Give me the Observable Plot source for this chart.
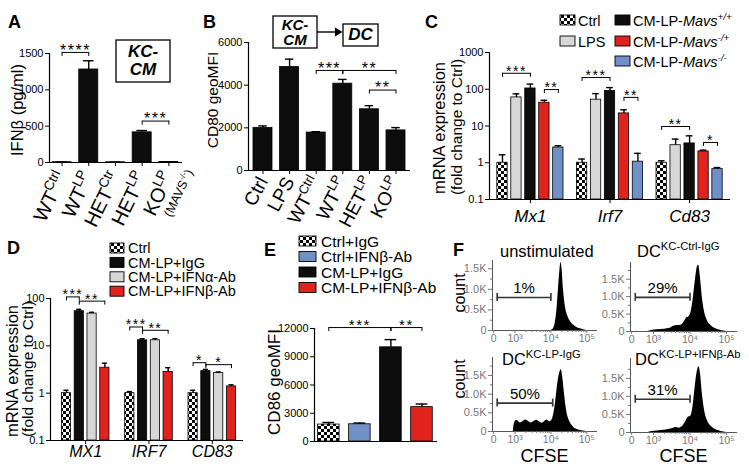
<!DOCTYPE html>
<html>
<head>
<meta charset="utf-8">
<script src="https://cdn.jsdelivr.net/npm/d3@7"></script>
<script src="https://cdn.jsdelivr.net/npm/@observablehq/plot@0.6"></script>
<style>
  html, body { margin: 0; padding: 0; background: #fff; }
  #wrap { position: relative; width: 749px; height: 468px; overflow: hidden; background: #fff; }
  #wrap > svg { position: absolute; left: 0; top: 0; }
</style>
</head>
<body>
<svg width="0" height="0" style="position:absolute">
  <defs>
    <pattern id="chk" width="6" height="6" patternUnits="userSpaceOnUse">
      <rect width="6" height="6" fill="#fff"/>
      <rect width="3" height="3" fill="#000"/>
      <rect x="3" y="3" width="3" height="3" fill="#000"/>
    </pattern>
  </defs>
</svg>
<div id="wrap"></div>
<script>
const FONT = '"Liberation Sans", Arial, Helvetica, sans-serif';
const W = 749, H = 468;
const RED = "#e2231d", BLUE = "#7090c8", GRAY = "#d7d7d7", BLACK = "#0d0d0d", CHK = "url(#chk)";

// ================= DATA =================
// Panel A
const aCats = ["WT|Ctrl", "WT|LP", "HET|Ctr", "HET|LP", "KO|LP"];
const aNotes = ["", "", "", "", "(MAVS|-/-|)"];
const aValues = [4, 1280, 3, 415, 7];
const aErrors = [6, 1400, 5, 440, 10];
const aTicks = [0, 500, 1000, 1500];
const aBrackets = [
  {from: "WT|Ctrl", to: "WT|LP", y: 1515, label: "****"},
  {from: "HET|LP", to: "KO|LP", y: 570, label: "***"}
];

// Panel B
const bCats = ["Ctrl", "LPS", "WT|Ctrl", "WT|LP", "HET|LP", "KO|LP"];
const bValues = [2000, 4850, 1780, 4070, 2870, 1880];
const bErrors = [2090, 5220, 1820, 4270, 3040, 2010];
const bTicks = [0, 2000, 4000, 6000];
const bBrackets = [
  {from: "WT|Ctrl", to: "WT|LP", y: 4690, label: "***"},
  {from: "WT|LP", to: "KO|LP", y: 4690, label: "**"},
  {from: "HET|LP", to: "KO|LP", y: 3770, label: "**"}
];

// Panel C
const cGenes = ["Mx1", "Irf7", "Cd83"];
const cConds = ["Ctrl", "LPS", "CM-LP-Mavs|+/+", "CM-LP-Mavs|-/+", "CM-LP-Mavs|-/-"];
const cFills = [CHK, GRAY, BLACK, RED, BLUE];
const cValues = [[1.0, 60, 105, 43, 2.6], [1.0, 52, 90, 22, 1.07], [1.0, 3.0, 3.35, 2.03, 0.67]];
const cErrors = [[1.65, 75, 138, 50, 2.9], [1.26, 76, 111, 27.6, 1.8], [1.13, 4.4, 5.4, 2.2, 0.74]];
const cTicks = [0.1, 1, 10, 100, 1000];
const cBrackets = [
  {gene: "Mx1", from: "Ctrl", to: "CM-LP-Mavs|+/+", y: 272, label: "***"},
  {gene: "Mx1", from: "CM-LP-Mavs|-/+", to: "CM-LP-Mavs|-/-", y: 98, label: "**"},
  {gene: "Irf7", from: "Ctrl", to: "CM-LP-Mavs|+/+", y: 209, label: "***"},
  {gene: "Irf7", from: "CM-LP-Mavs|-/+", to: "CM-LP-Mavs|-/-", y: 60, label: "**"},
  {gene: "Cd83", from: "Ctrl", to: "CM-LP-Mavs|+/+", y: 9.7, label: "**"},
  {gene: "Cd83", from: "CM-LP-Mavs|-/+", to: "CM-LP-Mavs|-/-", y: 3.56, label: "*"}
];

// Panel D
const dGenes = ["MX1", "IRF7", "CD83"];
const dConds = ["Ctrl", "CM-LP+IgG", "CM-LP+IFNα-Ab", "CM-LP+IFNβ-Ab"];
const dFills = [CHK, BLACK, GRAY, RED];
const dValues = [[1.0, 54, 48, 3.45], [1.0, 13.1, 13.1, 2.8], [1.0, 2.92, 2.65, 1.39]];
const dErrors = [[1.15, 59, 51, 4.3], [1.08, 14.1, 14.2, 3.45], [1.15, 3.18, 2.8, 1.5]];
const dTicks = [0.1, 1, 10, 100];
const dBrackets = [
  {gene: "MX1", from: "Ctrl", to: "CM-LP+IgG", y: 108, label: "***"},
  {gene: "MX1", from: "CM-LP+IgG", to: "CM-LP+IFNβ-Ab", y: 88, label: "**"},
  {gene: "IRF7", from: "Ctrl", to: "CM-LP+IgG", y: 25, label: "***"},
  {gene: "IRF7", from: "CM-LP+IgG", to: "CM-LP+IFNβ-Ab", y: 21.3, label: "**"},
  {gene: "CD83", from: "Ctrl", to: "CM-LP+IgG", y: 4.4, label: "*"},
  {gene: "CD83", from: "CM-LP+IgG", to: "CM-LP+IFNβ-Ab", y: 4.0, label: "*"}
];

// Panel E
const eConds = ["Ctrl+IgG", "Ctrl+IFNβ-Ab", "CM-LP+IgG", "CM-LP+IFNβ-Ab"];
const eFills = [CHK, BLUE, BLACK, RED];
const eValues = [1800, 1830, 10000, 3650];
const eErrors = [2020, 1960, 10820, 3980];
const eTicks = [0, 3000, 6000, 9000, 12000];
const eBrackets = [
  {from: "Ctrl+IgG", to: "CM-LP+IgG", y: 12100, label: "***"},
  {from: "CM-LP+IgG", to: "CM-LP+IFNβ-Ab", y: 12100, label: "**"}
];

// Panel F (x in display decades of CFSE; "0" drawn at 2.4)
const fTitles = ["unstimulated", "DC|KC-Ctrl-IgG", "DC|KC-LP-IgG", "DC|KC-LP+IFNβ-Ab"];
const fTickVals = [2.4, 3, 4, 5];
const fTickLabels = ["0", "10³", "10⁴", "10⁵"];
const fYTicks = [0, 500, 1000, 1500];
const fUnstim = [[4.0,0],[4.07,40],[4.12,180],[4.17,520],[4.21,1000],[4.25,1450],[4.28,1650],[4.31,1500],[4.35,1000],[4.4,600],[4.47,350],[4.56,200],[4.68,100],[4.82,40],[5.0,0]];
const fCtrlIgG = [[2.85,0],[2.95,30],[3.1,50],[3.3,65],[3.45,90],[3.55,150],[3.65,170],[3.75,180],[3.83,260],[3.9,380],[3.97,420],[4.03,560],[4.09,950],[4.15,1500],[4.21,1880],[4.24,1900],[4.28,1600],[4.33,1050],[4.39,600],[4.47,320],[4.57,170],[4.7,80],[4.85,30],[5.0,0]];
const fLPIgG = [[2.95,0],[2.98,200],[3.04,300],[3.15,230],[3.3,310],[3.45,230],[3.6,300],[3.75,220],[3.89,310],[3.97,260],[4.05,350],[4.12,700],[4.18,1200],[4.24,1550],[4.29,1650],[4.33,1450],[4.38,1000],[4.44,550],[4.52,280],[4.62,130],[4.75,50],[4.9,15],[5.0,0]];
const fLPIFNb = [[2.85,0],[2.95,30],[3.1,45],[3.3,60],[3.45,90],[3.55,120],[3.62,140],[3.7,120],[3.8,170],[3.88,300],[3.95,420],[4.02,450],[4.08,700],[4.14,1250],[4.2,1700],[4.25,1820],[4.29,1600],[4.34,1050],[4.4,600],[4.48,320],[4.58,170],[4.7,80],[4.85,30],[5.0,0]];
const fCurves = [fUnstim, fCtrlIgG, fLPIgG, fLPIFNb];
const fGateX1 = [2.5, 2.5, 2.5, 2.5];
const fGateX2 = [4.0, 4.0, 4.05, 4.0];
const fGateY = [800, 980, 760, 920];
const fGateLabels = ["1%", "29%", "50%", "31%"];

// ================= HELPERS =================
const wrap = document.getElementById("wrap");
const baseStyle = {background: "none", fontFamily: FONT, fontSize: "11px", color: "#000", overflow: "visible"};
function framed(x0, x1, yTop, yBot) {
  return {width: W, height: H, marginLeft: x0, marginRight: W - x1, marginTop: yTop, marginBottom: H - yBot};
}
function add(p) { wrap.appendChild(p); return p; }
function richParts(str) { return str.split("|").map((t, i) => ({t, sup: i % 2 === 1})); }
function drawRich(sel, parts, size, opts = {}) {
  let shift = opts.startShift || 0, first = true;
  for (const p of parts) {
    if (!p.t) continue;
    const fs = p.sup ? size * 0.68 : size;
    const target = p.sup ? -size * 0.4 : 0;
    const ts = sel.append("tspan").attr("font-size", fs).text(p.t);
    let dy = target - shift;
    if (first && opts.x != null) { ts.attr("x", opts.x); dy += opts.dy || 0; }
    if (dy) ts.attr("dy", dy);
    shift = target;
    if (p.it) ts.attr("font-style", "italic");
    first = false;
  }
  return shift;
}
function barMarks(rows, {half, cap, y0, sw = 0.8}) {
  return [
    Plot.rect(rows, {x1: d => d.x - half, x2: d => d.x + half, y1: () => y0, y2: "value", fill: "fill", stroke: "#000", strokeWidth: sw}),
    Plot.ruleX(rows, {x: "x", y1: "value", y2: "err", stroke: "#000", strokeWidth: 1.4}),
    Plot.ruleY(rows, {y: "err", x1: d => d.x - cap, x2: d => d.x + cap, stroke: "#000", strokeWidth: 1.4})
  ];
}
function bracketMarks(br, {leg = 4, size = 15, dy = -2} = {}) {
  const st = {stroke: "#000", strokeWidth: 1};
  return [
    Plot.link(br, {x1: "x1", x2: "x2", y1: "y", y2: "y", ...st}),
    Plot.ruleX(br, {x: "x1", y1: "y", y2: "y", insetBottom: -leg, ...st}),
    Plot.ruleX(br, {x: "x2", y1: "y", y2: "y", insetBottom: -leg, ...st}),
    Plot.text(br, {x: d => (d.x1 + d.x2) / 2, y: "y", text: "label", fontSize: size, dy})
  ];
}
function superTicks(svg, cats, notes, size) {
  d3.select(svg).selectAll('g[aria-label="x-axis tick label"] text').each(function () {
    const el = d3.select(this);
    const raw = el.text();
    const i = cats.indexOf(raw);
    el.text(null);
    const sh = drawRich(el, richParts(raw), size);
    if (notes && notes[i]) drawRich(el, richParts(notes[i]), 12.5, {x: 12, dy: 15, startShift: sh});
  });
}

// ================= PANEL A =================
const aRows = aCats.map((c, i) => ({x: i, value: aValues[i], err: aErrors[i], fill: BLACK}));
const aBr = aBrackets.map(b => ({x1: aCats.indexOf(b.from), x2: aCats.indexOf(b.to), y: b.y, label: b.label}));
const plotA = add(Plot.plot({
  ...framed(49, 182, 53, 162), style: baseStyle,
  x: {domain: [-0.47, 4.51]}, y: {domain: [0, 1500]}, color: {type: "identity"},
  marks: [
    ...barMarks(aRows, {half: 0.356, cap: 0.2, y0: 0}),
    Plot.ruleX([-0.47], {strokeWidth: 1.2}), Plot.ruleY([0], {strokeWidth: 1.2}),
    Plot.axisY({ticks: aTicks, tickFormat: d => String(d), tickSize: 4, tickPadding: 2, label: null, fontSize: 11}),
    Plot.axisX({ticks: d3.range(aCats.length), tickFormat: i => aCats[i], tickRotate: -64, tickSize: 4, tickPadding: 7, label: null, fontSize: 20}),
    ...bracketMarks(aBr, {leg: 4, size: 16})
  ]
}));
superTicks(plotA, aCats, aNotes, 20);

// ================= PANEL B =================
const bRows = bCats.map((c, i) => ({x: i, value: bValues[i], err: bErrors[i], fill: BLACK}));
const bBr = bBrackets.map(b => ({x1: bCats.indexOf(b.from), x2: bCats.indexOf(b.to), y: b.y, label: b.label}));
const plotB = add(Plot.plot({
  ...framed(248, 410, 42, 170), style: baseStyle,
  x: {domain: [-0.545, 5.545]}, y: {domain: [0, 6000]}, color: {type: "identity"},
  marks: [
    ...barMarks(bRows, {half: 0.357, cap: 0.16, y0: 0}),
    Plot.ruleX([-0.545], {strokeWidth: 1.2}), Plot.ruleY([0], {strokeWidth: 1.2}),
    Plot.axisY({ticks: bTicks, tickFormat: d => String(d), tickSize: 4, tickPadding: 2, label: null, fontSize: 11}),
    Plot.axisX({ticks: d3.range(bCats.length), tickFormat: i => bCats[i], tickRotate: -62, tickSize: 4, tickPadding: 4, label: null, fontSize: 19}),
    ...bracketMarks(bBr, {leg: 4, size: 16})
  ]
}));
superTicks(plotB, bCats, null, 19);

// ================= PANEL C =================
const C_GSTEP = 5.7;
const cRows = [];
cGenes.forEach((g, gi) => cConds.forEach((c, ci) => cRows.push({x: gi * C_GSTEP + ci, value: cValues[gi][ci], err: cErrors[gi][ci], fill: cFills[ci]})));
const cBr = cBrackets.map(b => { const gi = cGenes.indexOf(b.gene); return {x1: gi * C_GSTEP + cConds.indexOf(b.from), x2: gi * C_GSTEP + cConds.indexOf(b.to), y: b.y, label: b.label}; });
const cGeneTicks = cGenes.map((g, gi) => gi * C_GSTEP + 2);
const cGeneMap = new Map(cGeneTicks.map((t, i) => [t, cGenes[i]]));
add(Plot.plot({
  ...framed(489, 730, 52, 199), style: baseStyle,
  x: {domain: [-0.93, 16.33]}, y: {type: "log", domain: [0.1, 1000]}, color: {type: "identity"},
  marks: [
    ...barMarks(cRows, {half: 0.37, cap: 0.24, y0: 0.1}),
    Plot.ruleX([-0.93], {strokeWidth: 1.2}), Plot.ruleY([0.1], {strokeWidth: 1.2}),
    Plot.axisY({ticks: cTicks, tickFormat: d => String(d), tickSize: 4, tickPadding: 2, label: null, fontSize: 11}),
    Plot.axisX({ticks: cGeneTicks, tickFormat: d => cGeneMap.get(d), tickSize: 4, tickPadding: 6, label: null, fontSize: 17, fontStyle: "italic"}),
    ...bracketMarks(cBr, {leg: 4, size: 14})
  ]
}));

// ================= PANEL D =================
const D_GSTEP = 4.95;
const dRows = [];
dGenes.forEach((g, gi) => dConds.forEach((c, ci) => dRows.push({x: gi * D_GSTEP + ci, value: dValues[gi][ci], err: dErrors[gi][ci], fill: dFills[ci]})));
const dBr = dBrackets.map(b => { const gi = dGenes.indexOf(b.gene); return {x1: gi * D_GSTEP + dConds.indexOf(b.from), x2: gi * D_GSTEP + dConds.indexOf(b.to), y: b.y, label: b.label}; });
const dGeneTicks = dGenes.map((g, gi) => gi * D_GSTEP + 1.5);
const dGeneMap = new Map(dGeneTicks.map((t, i) => [t, dGenes[i]]));
add(Plot.plot({
  ...framed(50, 243, 298, 440), style: baseStyle,
  x: {domain: [-1.25, 13.84]}, y: {type: "log", domain: [0.1, 100]}, color: {type: "identity"},
  marks: [
    ...barMarks(dRows, {half: 0.36, cap: 0.2, y0: 0.1}),
    Plot.ruleX([-1.25], {strokeWidth: 1.2}), Plot.ruleY([0.1], {strokeWidth: 1.2}),
    Plot.axisY({ticks: dTicks, tickFormat: d => String(d), tickSize: 4, tickPadding: 2, label: null, fontSize: 11}),
    Plot.axisX({ticks: dGeneTicks, tickFormat: d => dGeneMap.get(d), tickSize: 4, tickPadding: 1, label: null, fontSize: 16, fontStyle: "italic"}),
    ...bracketMarks(dBr, {leg: 4, size: 14})
  ]
}));

// ================= PANEL E =================
const eRows = eConds.map((c, i) => ({x: i, value: eValues[i], err: eErrors[i], fill: eFills[i]}));
const eBr = eBrackets.map(b => ({x1: eConds.indexOf(b.from), x2: eConds.indexOf(b.to), y: b.y, label: b.label}));
add(Plot.plot({
  ...framed(314, 437, 328, 441), style: baseStyle,
  x: {domain: [-0.46, 3.5], axis: null}, y: {domain: [0, 12000]}, color: {type: "identity"},
  marks: [
    ...barMarks(eRows, {half: 0.348, cap: 0.19, y0: 0}),
    Plot.ruleX([-0.46], {strokeWidth: 1.2}), Plot.ruleY([0], {strokeWidth: 1.2}),
    Plot.axisY({ticks: eTicks, tickFormat: d => String(d), tickSize: 4, tickPadding: 2, label: null, fontSize: 11}),
    ...bracketMarks(eBr, {leg: 4, size: 15})
  ]
}));

// ================= PANEL F =================
const fTickMap = new Map(fTickVals.map((t, i) => [t, fTickLabels[i]]));
const fMinor = [];
for (const e of [3, 4]) for (let k = 2; k <= 9; k++) fMinor.push(e + Math.log10(k));
const fmtK = d => d === 0 ? "0" : (d / 1000).toFixed(1) + "K";
const fBoxes = [[492, 597, 260, 330, 1700], [630, 737, 262, 331, 1980], [492, 597, 357, 431, 1980], [630, 737, 358, 432, 2050]];
fBoxes.forEach(([x0, x1, yT, yB, yMax], i) => {
  const gate = [{x1: fGateX1[i], x2: fGateX2[i], y: fGateY[i], label: fGateLabels[i]}];
  const gs = {stroke: "#333", strokeWidth: 1.6};
  add(Plot.plot({
    ...framed(x0, x1, yT, yB), style: baseStyle,
    x: {domain: [2.37, 5.3]}, y: {domain: [0, yMax]},
    marks: [
      Plot.areaY(fCurves[i], {x: d => d[0], y: d => d[1], fill: "#000", curve: "monotone-x"}),
      Plot.ruleX([2.37], {stroke: "#555"}), Plot.ruleY([0], {stroke: "#555"}),
      Plot.axisY({ticks: fYTicks, tickFormat: fmtK, tickSize: 4, tickPadding: 2, label: null, color: "#777", fontSize: 11}),
      Plot.axisY({ticks: d3.range(250, yMax, 500), tickSize: 2, tickFormat: () => "", label: null, color: "#777"}),
      Plot.axisX({ticks: fTickVals, tickFormat: d => fTickMap.get(d), tickSize: 3, tickPadding: 1, label: null, color: "#777", fontSize: 10.5}),
      Plot.axisX({ticks: fMinor, tickSize: 2, tickFormat: () => "", label: null, color: "#777"}),
      Plot.link(gate, {x1: "x1", x2: "x2", y1: "y", y2: "y", ...gs}),
      Plot.ruleX(gate, {x: "x1", y1: "y", y2: "y", insetTop: -4, insetBottom: -4, ...gs}),
      Plot.ruleX(gate, {x: "x2", y1: "y", y2: "y", insetTop: -4, insetBottom: -4, ...gs}),
      Plot.text(gate, {x: d => (d.x1 + d.x2) / 2, y: "y", text: "label", fontSize: 15, dy: -9})
    ]
  }));
});

// star spacing
d3.select(wrap).selectAll("text").filter(function () { return /^\*+$/.test(this.textContent); }).attr("letter-spacing", 1.5);

// ================= ANNOTATIONS (titles, legends) =================
const ov = d3.create("svg").attr("width", W).attr("height", H).attr("font-family", FONT);
function T(x, y, str, {size = 15, anchor = "start", weight = null, style = null, rotate = 0, fill = "#000"} = {}) {
  const t = ov.append("text").attr("text-anchor", anchor).attr("font-size", size).attr("fill", fill);
  if (rotate) t.attr("transform", `translate(${x},${y}) rotate(${rotate})`); else t.attr("x", x).attr("y", y);
  if (weight) t.attr("font-weight", weight);
  if (style) t.attr("font-style", style);
  drawRich(t, typeof str === "string" ? richParts(str) : str, size);
  return t;
}
function box(x, y, w, h) { ov.append("rect").attr("x", x).attr("y", y).attr("width", w).attr("height", h).attr("fill", "none").attr("stroke", "#000").attr("stroke-width", 1.3); }
function swatch(x, yc, w, h, fill) { ov.append("rect").attr("x", x).attr("y", yc - h / 2).attr("width", w).attr("height", h).attr("fill", fill).attr("stroke", "#000").attr("stroke-width", 0.9); }
function mavsParts(s) {
  if (!s.includes("Mavs")) return [{t: s}];
  const [base, sup] = s.split("|");
  return [{t: base.replace("Mavs", "")}, {t: "Mavs", it: true}, {t: sup, sup: true, it: true}];
}

// panel letters
[["A", 8, 28], ["B", 203, 28], ["C", 425, 28], ["D", 7, 254], ["E", 264, 256], ["F", 453, 256]]
  .forEach(([l, x, y]) => T(x, y, l, {size: 18, weight: "bold"}));

// axis titles
T(23, 110, "IFNβ (pg/ml)", {size: 16.5, anchor: "middle", rotate: -90});
T(218, 100, "CD80 geoMFI", {size: 15.5, anchor: "middle", rotate: -90});
T(445, 128, "mRNA expression", {size: 16.5, anchor: "middle", rotate: -90});
T(462, 127, "(fold change to Ctrl)", {size: 15.5, anchor: "middle", rotate: -90});
T(18, 371, "mRNA expression", {size: 16.5, anchor: "middle", rotate: -90});
T(33, 369, "(fold change to Ctrl)", {size: 15.5, anchor: "middle", rotate: -90});
T(280, 382, "CD86 geoMFI", {size: 17, anchor: "middle", rotate: -90});
T(465, 293, "count", {size: 16, anchor: "middle", rotate: -90});
T(465, 379, "count", {size: 16, anchor: "middle", rotate: -90});

// A box
box(116, 40, 54, 42);
T(143, 57, "KC-", {size: 17, weight: "bold", style: "italic", anchor: "middle"});
T(143, 75, "CM", {size: 17, weight: "bold", style: "italic", anchor: "middle"});
// B boxes + arrow
box(273, 16, 44, 32);
T(295, 30, "KC-", {size: 15, weight: "bold", style: "italic", anchor: "middle"});
T(295, 44.5, "CM", {size: 15, weight: "bold", style: "italic", anchor: "middle"});
box(343, 24, 35, 22);
T(360.5, 40, "DC", {size: 17, weight: "bold", style: "italic", anchor: "middle"});
ov.append("line").attr("x1", 317).attr("x2", 336).attr("y1", 32).attr("y2", 32).attr("stroke", "#000").attr("stroke-width", 1.4);
ov.append("path").attr("d", "M335,27.5 L342.5,32 L335,36.5 Z").attr("fill", "#000");

// C legend
const cLegendPos = [[560, 20], [560, 41], [615, 20], [615, 41], [615, 61]];
cConds.forEach((c, i) => {
  const [x, y] = cLegendPos[i];
  swatch(x, y, 15, 10, cFills[i]);
  const t = ov.append("text").attr("x", x + 18).attr("y", y + 5.5).attr("font-size", 14.5);
  drawRich(t, mavsParts(c), 14.5);
});
// D legend
dConds.forEach((c, i) => {
  const y = 248 + i * 14.4;
  swatch(110, y, 14, 10, dFills[i]);
  T(128, y + 5.2, c, {size: 14.5});
});
// E legend
eConds.forEach((c, i) => {
  const y = 241 + i * 15.5;
  swatch(299, y, 17, 10, eFills[i]);
  T(321, y + 5.5, c, {size: 15.5});
});

// F titles & axis labels
T(500, 257, fTitles[0], {size: 16.5});
T(637, 257, fTitles[1], {size: 16.5});
T(502, 365, fTitles[2], {size: 16.5});
T(635, 365, fTitles[3], {size: 16.5});
T(544.5, 462, "CFSE", {size: 18, anchor: "middle"});
T(683.5, 462, "CFSE", {size: 18, anchor: "middle"});

wrap.appendChild(ov.node());
</script>
</body>
</html>
